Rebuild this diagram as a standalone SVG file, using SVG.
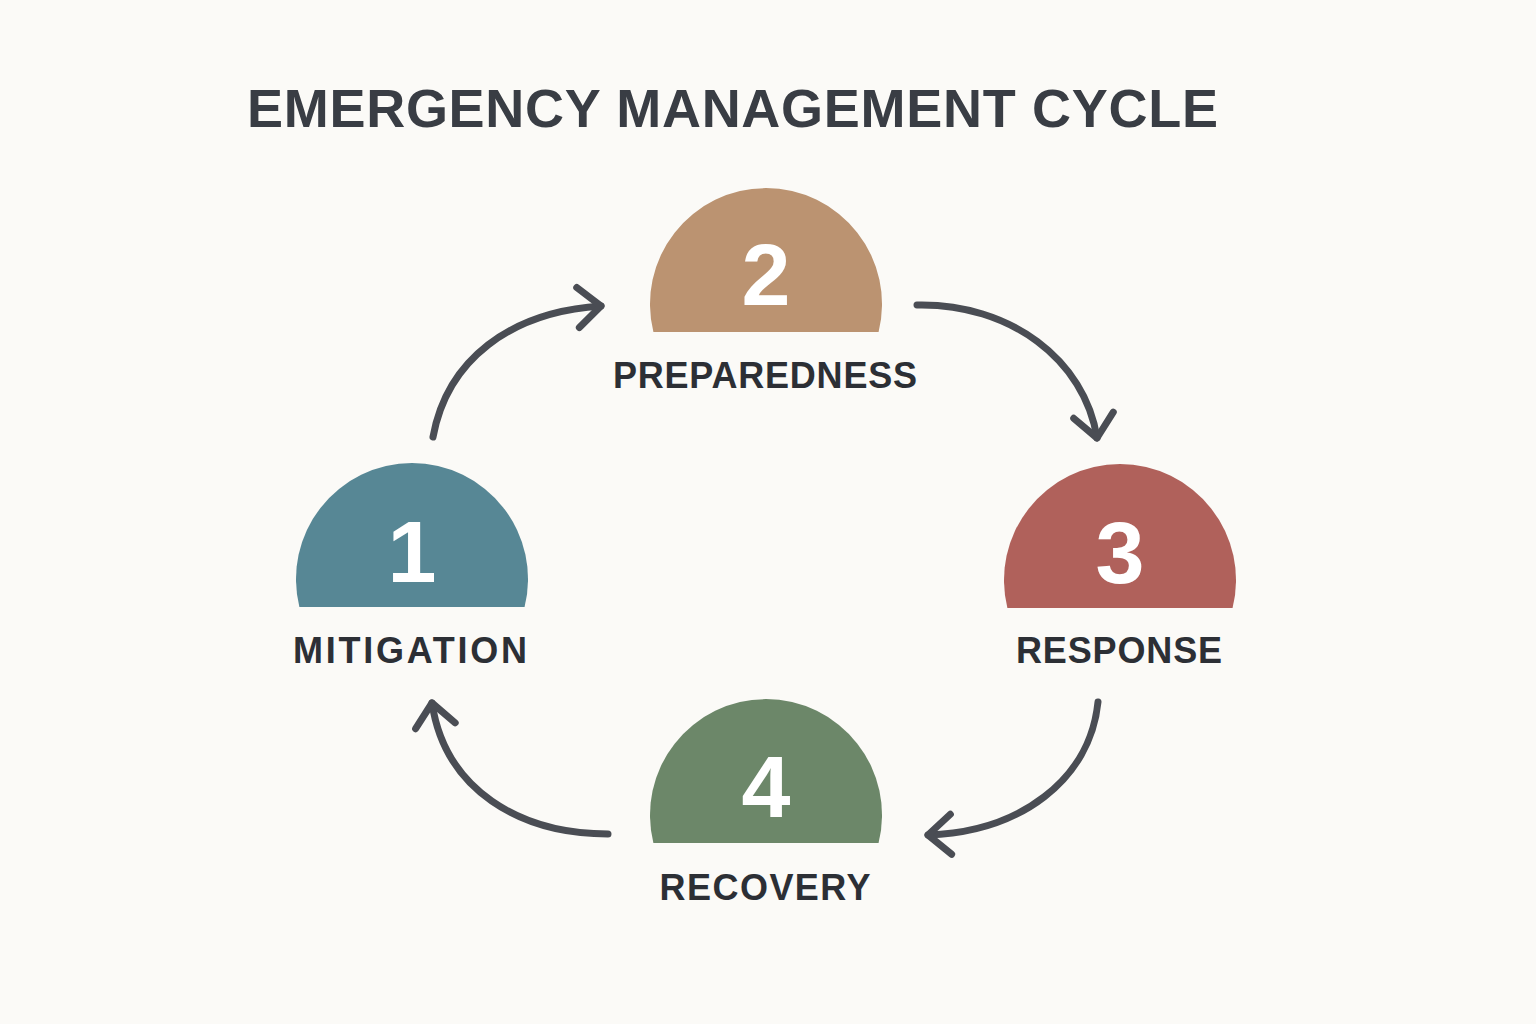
<svg xmlns="http://www.w3.org/2000/svg" width="1536" height="1024" viewBox="0 0 1536 1024">
  <style>
    .title { font-family: "Liberation Sans", Arial, sans-serif; font-weight: bold; font-size: 54px; fill: #393d44; }
    .num { font-family: "Liberation Sans", Arial, sans-serif; font-weight: bold; font-size: 88px; fill: #ffffff; text-anchor: middle; }
    .label { font-family: "Liberation Sans", Arial, sans-serif; font-weight: bold; font-size: 36px; fill: #2c2f35; text-anchor: middle; }
    .conn { fill: none; stroke: #4a4d54; stroke-width: 7; stroke-linecap: round; stroke-linejoin: round; }
  </style>
  <defs>
    <marker id="chev" markerUnits="userSpaceOnUse" viewBox="-30 -26 36 52" markerWidth="36" markerHeight="52" refX="0" refY="0" orient="auto">
      <path d="M-23,-20 L0,0 L-23,20" fill="none" stroke="#4a4d54" stroke-width="7" stroke-linecap="round" stroke-linejoin="round"/>
    </marker>
  </defs>
  <rect width="1536" height="1024" fill="#fbfaf7"/>
  <text class="title" x="247" y="127" textLength="971">EMERGENCY MANAGEMENT CYCLE</text>

  <g id="connectors">
    <path class="conn" d="M433,437 C447,360 510,312 601,306" marker-end="url(#chev)"/>
    <path class="conn" d="M917,305 C1010,303 1085,360 1097,438" marker-end="url(#chev)"/>
    <path class="conn" d="M1098,702 C1090,780 1020,832 928,835" marker-end="url(#chev)"/>
    <path class="conn" d="M608,834 C520,834 445,790 432,703" marker-end="url(#chev)"/>
  </g>

  <g id="node-mitigation">
    <path d="M299.4,607 A116,116 0 1 1 524.6,607 Z" fill="#578795"/>
    <text class="num" x="412" y="582">1</text>
    <text class="label" x="410" y="663" textLength="234">MITIGATION</text>
  </g>
  <g id="node-preparedness">
    <path d="M653.4,332 A116,116 0 1 1 878.6,332 Z" fill="#bb9371"/>
    <text class="num" x="766" y="305">2</text>
    <text class="label" x="765" y="388" textLength="304">PREPAREDNESS</text>
  </g>
  <g id="node-response">
    <path d="M1007.4,608 A116,116 0 1 1 1232.6,608 Z" fill="#b0615b"/>
    <text class="num" x="1120" y="583">3</text>
    <text class="label" x="1119" y="663" textLength="206">RESPONSE</text>
  </g>
  <g id="node-recovery">
    <path d="M653.4,843 A116,116 0 1 1 878.6,843 Z" fill="#6c8769"/>
    <text class="num" x="766" y="817">4</text>
    <text class="label" x="765" y="900" textLength="211">RECOVERY</text>
  </g>
</svg>
